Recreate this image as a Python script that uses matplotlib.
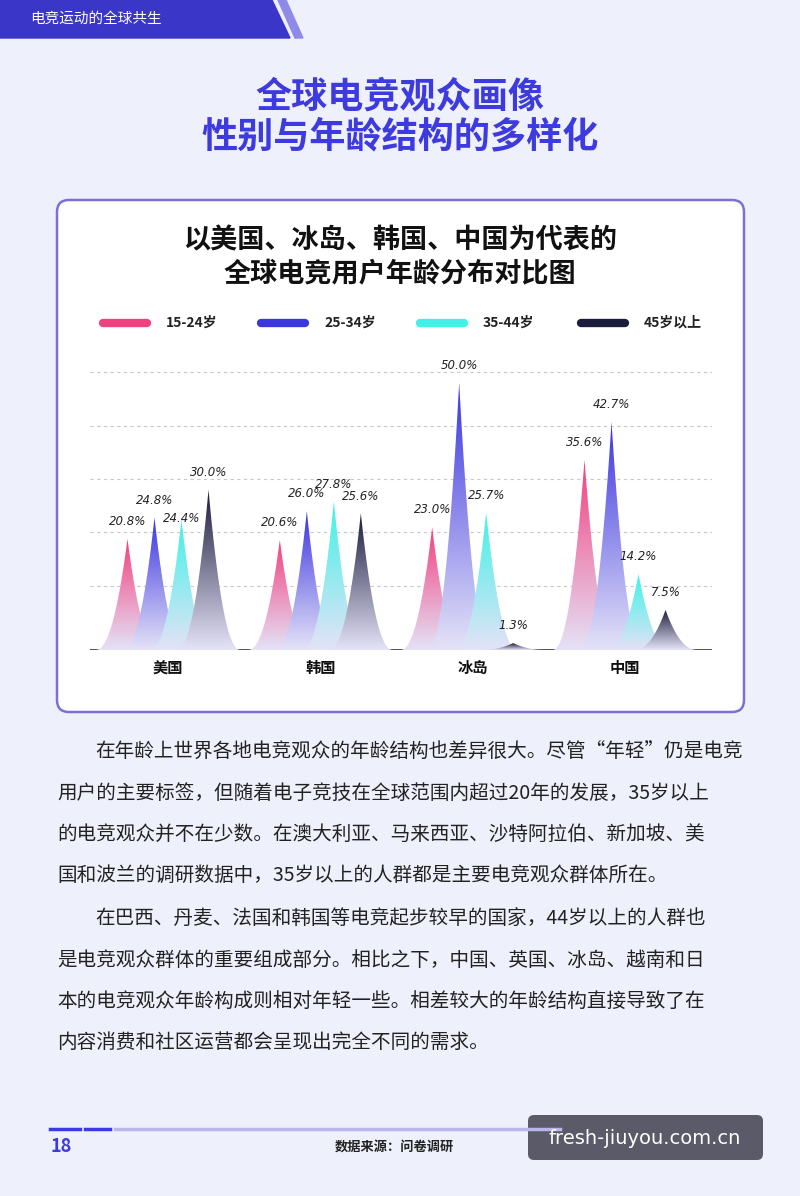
import numpy as np
import matplotlib.pyplot as plt
from matplotlib.patches import Polygon, FancyBboxPatch
from matplotlib.colors import LinearSegmentedColormap

plt.rcParams['font.family'] = ['Noto Sans CJK SC', 'DejaVu Sans']

countries = ['美国', '韩国', '冰岛', '中国']
age_groups = ['15-24岁', '25-34岁', '35-44岁', '45岁以上']
values = {
    '15-24岁': [20.8, 20.6, 23.0, 35.6],
    '25-34岁': [24.8, 26.0, 50.0, 42.7],
    '35-44岁': [24.4, 27.8, 25.7, 14.2],
    '45岁以上': [30.0, 25.6, 1.3, 7.5],
}
colors = ['#f2407e', '#3b36e0', '#3ff2e6', '#1c1c3c']

para1 = ['在年龄上世界各地电竞观众的年龄结构也差异很大。尽管“年轻”仍是电竞',
         '用户的主要标签，但随着电子竞技在全球范围内超过20年的发展，35岁以上',
         '的电竞观众并不在少数。在澳大利亚、马来西亚、沙特阿拉伯、新加坡、美',
         '国和波兰的调研数据中，35岁以上的人群都是主要电竞观众群体所在。']
para2 = ['在巴西、丹麦、法国和韩国等电竞起步较早的国家，44岁以上的人群也',
         '是电竞观众群体的重要组成部分。相比之下，中国、英国、冰岛、越南和日',
         '本的电竞观众年龄构成则相对年轻一些。相差较大的年龄结构直接导致了在',
         '内容消费和社区运营都会呈现出完全不同的需求。']

W, H = 800, 1196
fig = plt.figure(figsize=(W / 100, H / 100), dpi=100)
fig.patch.set_facecolor('#eef0fb')
bg = fig.add_axes([0, 0, 1, 1])
bg.set_xlim(0, W)
bg.set_ylim(H, 0)
bg.axis('off')

# banner
bg.add_patch(Polygon([(0, 0), (272, 0), (290, 38), (0, 38)], color='#3a36c8'))
bg.add_patch(Polygon([(278, 0), (286, 0), (303, 38), (295, 38)], color='#8f8ae8'))
bg.text(30, 19, '电竞运动的全球共生', color='white', fontsize=10.5, va='center')

bg.text(400, 97, '全球电竞观众画像', color='#3d3ae0', fontsize=26, weight='bold',
        ha='center', va='center')
bg.text(400, 137, '性别与年龄结构的多样化', color='#3d3ae0', fontsize=26, weight='bold',
        ha='center', va='center')

bg.add_patch(FancyBboxPatch((57, 200), 687, 512, boxstyle='round,pad=0,rounding_size=12',
                            fc='white', ec='#7c70d2', lw=1.8))
bg.text(400, 240, '以美国、冰岛、韩国、中国为代表的', fontsize=19.5, weight='bold',
        ha='center', va='center', color='#111111')
bg.text(400, 273, '全球电竞用户年龄分布对比图', fontsize=19.5, weight='bold',
        ha='center', va='center', color='#111111')

for i, (lab, c) in enumerate(zip(age_groups, colors)):
    x0 = [100, 258, 417, 578][i]
    bg.plot([x0 + 3, x0 + 47], [323, 323], color=c, lw=6, solid_capstyle='round')
    bg.text(x0 + 66, 323, lab, fontsize=10, va='center', color='#222222', weight='bold')

# body text
for j, line in enumerate(para1):
    x = 95 if j == 0 else 57
    bg.text(x, 752 + j * 41, line, fontsize=14.1, va='center', color='#222222')
for j, line in enumerate(para2):
    x = 95 if j == 0 else 57
    bg.text(x, 919 + j * 41, line, fontsize=14.1, va='center', color='#222222')

# footer
bg.text(50, 1147, '18', fontsize=13, color='#3d3ae0', style='italic', weight='bold', va='center')
bg.plot([50, 80], [1129, 1129], color='#3d3ae0', lw=2.5)
bg.plot([85, 110], [1129, 1129], color='#3d3ae0', lw=2.5)
bg.plot([115, 560], [1129, 1129], color='#b9b6ea', lw=2.5)
bg.text(335, 1147, '数据来源：问卷调研', fontsize=9.5, style='italic', weight='bold',
        va='center', color='#222222')
bg.add_patch(FancyBboxPatch((528, 1115), 235, 45, boxstyle='round,pad=0,rounding_size=6',
                            fc='#4a4a58', ec='none', alpha=0.9))
bg.text(645, 1138, 'fresh-jiuyou.com.cn', fontsize=14, color='white', ha='center', va='center',
        family='DejaVu Sans')

# chart
ax = fig.add_axes([90 / W, 1 - 650 / H, 622 / W, 280 / H])
ax.set_xlim(-0.512, 3.571)
ax.set_ylim(0, 52.4)
ax.axis('off')
for g in [10, 20, 30, 40, 50]:
    ax.axhline(g + 2, color='#c8c8d0', lw=0.8, ls=(0, (3, 3)))
ax.axhline(0, color='#333333', lw=1.2)

step = 27 / 152.3
half = 32 / 152.3
t = np.linspace(-1, 1, 201)
for k, (lab, c) in enumerate(zip(age_groups, colors)):
    cmap = LinearSegmentedColormap.from_list(lab, ['#e4e2f7', c])
    for i, v in enumerate(values[lab]):
        cx = i + (k - 1.5) * step
        xs = cx + t * half
        ys = v * (1 - np.abs(t)) ** 2.2
        poly = Polygon(np.column_stack([xs, ys]), closed=True, fc='none', ec='none')
        ax.add_patch(poly)
        grad = np.linspace(0, 1, 100).reshape(-1, 1)
        im = ax.imshow(grad, cmap=cmap, origin='lower', aspect='auto',
                       extent=[cx - half, cx + half, 0, v], zorder=2 + k * 0.01)
        im.set_clip_path(poly)
        ty = v + 2.0
        if lab == '35-44岁' and i == 0:
            ty = v - 1.0
        ax.text(cx, ty, f'{v:.1f}%', ha='center', va='bottom', fontsize=8.5,
                style='italic', color='#222222', family='DejaVu Sans', zorder=5)
for i, name in enumerate(countries):
    ax.text(i, -3.4, name, ha='center', va='center', fontsize=11, weight='bold', color='#111111')
ax.set_xlim(-0.512, 3.571)
ax.set_ylim(0, 52.4)

fig.savefig('out.png', dpi=100, facecolor=fig.get_facecolor())
